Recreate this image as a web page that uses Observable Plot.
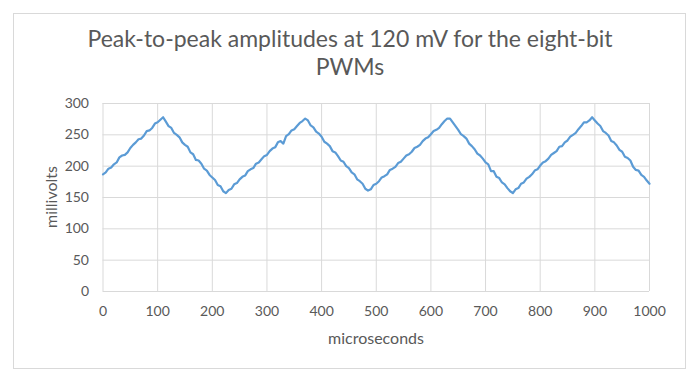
<!DOCTYPE html>
<html><head><meta charset="utf-8">
<script src="https://cdn.jsdelivr.net/npm/d3@7"></script>
<script src="https://cdn.jsdelivr.net/npm/@observablehq/plot@0.6"></script>
<style>
body{margin:0;background:#fff;width:693px;height:382px;overflow:hidden;position:relative;font-family:Lato,"Open Sans",sans-serif;}
#frame{position:absolute;left:13px;top:13px;width:673px;height:356px;border:1px solid #d9d9d9;box-sizing:border-box;}
#title{position:absolute;left:0px;width:700px;top:24px;text-align:center;font-size:23px;line-height:28px;color:#595959;}
#chart{position:absolute;left:0;top:0;}
#ylab{position:absolute;left:50px;top:197px;transform:translate(-50%,-50%) rotate(-90deg);font-size:16px;color:#595959;white-space:nowrap;}
#xlab{position:absolute;left:376px;top:337px;transform:translate(-50%,-50%);font-size:16px;color:#595959;white-space:nowrap;}
</style></head>
<body>
<div id="frame"></div>
<div id="chart"></div>
<div id="title">Peak-to-peak amplitudes at 120 mV for the eight-bit<br>PWMs</div>
<div id="ylab">millivolts</div>
<div id="xlab">microseconds</div>
<script>
const times = [0,5,10,15,20,25,30,35,40,45,50,55,60,65,70,75,80,85,90,95,
100,105,110,115,120,125,130,135,140,145,150,155,160,165,170,175,180,185,190,195,
200,205,210,215,220,225,230,235,240,245,250,255,260,265,270,275,280,285,290,295,
300,305,310,315,320,325,330,335,340,345,350,355,360,365,370,375,380,385,390,395,
400,405,410,415,420,425,430,435,440,445,450,455,460,465,470,475,480,485,490,495,
500,505,510,515,520,525,530,535,540,545,550,555,560,565,570,575,580,585,590,595,
600,605,610,615,620,625,630,635,640,645,650,655,660,665,670,675,680,685,690,695,
700,705,710,715,720,725,730,735,740,745,750,755,760,765,770,775,780,785,790,795,
800,805,810,815,820,825,830,835,840,845,850,855,860,865,870,875,880,885,890,895,
900,905,910,915,920,925,930,935,940,945,950,955,960,965,970,975,980,985,990,995,1000];
const millivolts = [187,190,196,198,203,206,214,217,218,222,229,234,238,243,244,249,256,257,261,268,
270,274,278,271,264,261,253,250,246,238,234,231,222,219,210,209,204,196,193,186,
182,178,170,168,160,157,162,164,171,173,179,183,185,192,195,197,204,206,211,216,
218,224,228,230,238,240,236,248,251,257,259,264,269,272,276,273,265,262,255,252,
247,239,236,232,224,222,216,209,207,200,197,190,187,179,176,172,164,161,163,170,
172,176,182,184,187,194,196,199,205,207,212,217,219,223,229,231,234,240,244,246,
251,256,258,261,267,272,276,276,270,264,258,251,248,244,236,232,227,220,217,212,
206,203,192,192,183,181,174,171,165,160,157,163,165,172,174,180,183,187,193,195,
201,206,208,212,218,221,224,231,232,238,241,247,250,253,259,264,270,270,273,278,
273,268,264,256,253,249,240,238,233,226,223,215,213,209,199,194,193,186,183,177,172];
const xTicks = [0,100,200,300,400,500,600,700,800,900,1000];
const yTicks = [0,50,100,150,200,250,300];

const data = times.map((t,i)=>({t, v: millivolts[i]}));
const grid = "#d9d9d9";
const plot = Plot.plot({
  width: 693, height: 382,
  marginLeft: 102.5, marginRight: 44, marginTop: 103, marginBottom: 91,
  style: {fontFamily: "Lato, 'Open Sans', sans-serif", fontSize: "14px", color: "#595959", background: "transparent"},
  x: {domain: [0,1000]},
  y: {domain: [0,300]},
  marks: [
    Plot.gridX(xTicks, {stroke: grid, strokeOpacity: 1, strokeWidth: 1}),
    Plot.gridY(yTicks, {stroke: grid, strokeOpacity: 1, strokeWidth: 1}),
    Plot.axisX(xTicks, {tickSize: 0, tickPadding: 15, label: null, fill: "#595959", tickFormat: d => String(d)}),
    Plot.axisY(yTicks, {tickSize: 0, tickPadding: 14, label: null, fill: "#595959", tickFormat: d => String(d)}),
    Plot.line(data, {x: "t", y: "v", stroke: "#5b9bd5", strokeWidth: 2.2, strokeLinejoin: "round"})
  ]
});
document.getElementById("chart").appendChild(plot);
</script>
</body></html>
